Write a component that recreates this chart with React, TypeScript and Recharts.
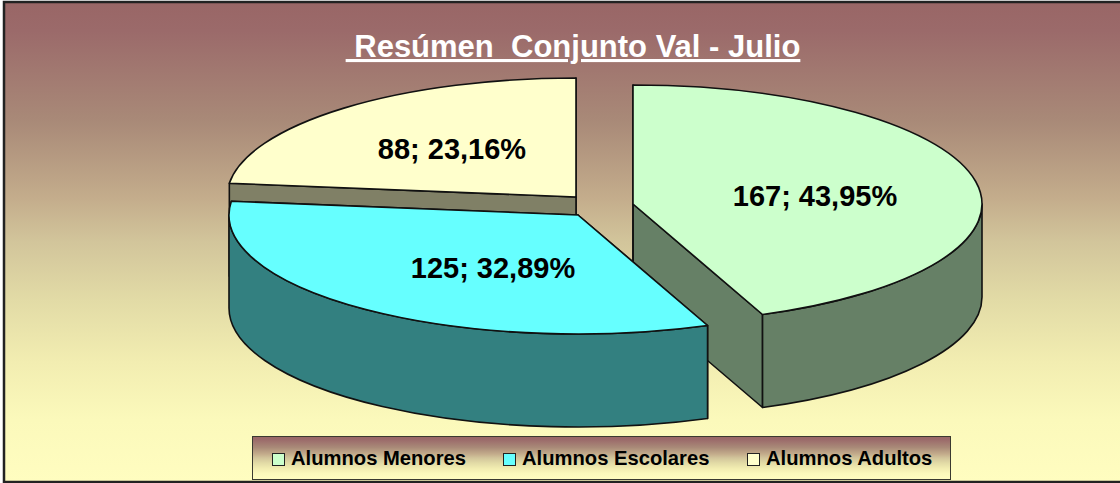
import React from 'react';
import { PieChart, Pie, Legend } from 'recharts';

const categories = ['Alumnos Menores', 'Alumnos Escolares', 'Alumnos Adultos'];
const values = [167, 125, 88];
const topColors = ['#ccffcc', '#66ffff', '#ffffcc'];
const sideColors = ['#668066', '#338080', '#808066'];
const titleText = ' Resúmen  Conjunto Val - Julio';

const W = 1120;
const H = 483;
const RX = 349;
const RY = 119;
const DEPTH = 93;
const CX = 598;
const CY = 205;
const sliceShift = [
  [35, -1],
  [-20, 10],
  [-22, -8],
];
const labelShift = [
  [182, -8],
  [-85, 53],
  [-124, -48],
];
const gradientStops: [string, string][] = [
  ['0%', '#996666'],
  ['6%', '#9b6a6a'],
  ['25%', '#a98a78'],
  ['41%', '#c4ad8c'],
  ['50%', '#d2c59b'],
  ['62%', '#e2dba6'],
  ['75%', '#f2edb1'],
  ['87%', '#fbf9bb'],
  ['100%', '#fffdc0'],
];

const total = values.reduce((a, b) => a + b, 0);
// Counter-clockwise from the end of the first slice: the first slice is drawn first,
// the far slice next and the near slice last, so each one overlaps as in a 3D pie.
const drawOrder = [0, 2, 1];
const pieData = drawOrder.map((i) => ({
  name: categories[i],
  value: values[i],
  order: i,
  fill: topColors[i],
  side: sideColors[i],
}));
const pieStart = 90 - (360 * values[0]) / total;

const Slice3D = (props: any) => {
  const { cx, cy, payload } = props;
  let { startAngle, endAngle } = props;
  while (startAngle < 0) {
    startAngle += 360;
    endAngle += 360;
  }
  while (startAngle >= 360) {
    startAngle -= 360;
    endAngle -= 360;
  }
  const [dx, dy] = sliceShift[payload.order];
  const ox = cx + dx;
  const oy = cy + dy;
  const pt = (deg: number) => {
    const a = (deg * Math.PI) / 180;
    return [ox + RX * Math.cos(a), oy - RY * Math.sin(a)];
  };
  const s = pt(startAngle);
  const e = pt(endAngle);
  const large = endAngle - startAngle > 180 ? 1 : 0;
  const top = `M${ox},${oy} L${s[0]},${s[1]} A${RX},${RY} 0 ${large} 0 ${e[0]},${e[1]} Z`;
  const wall = (p: number[]) =>
    `M${ox},${oy} L${p[0]},${p[1]} L${p[0]},${p[1] + DEPTH} L${ox},${oy + DEPTH} Z`;
  const ranges = [[Math.max(startAngle, 180), Math.min(endAngle, 360)]].filter(([a, b]) => b > a);
  const rims = ranges.map(([a, b]) => {
    const p = pt(a);
    const q = pt(b);
    return `M${p[0]},${p[1]} A${RX},${RY} 0 0 0 ${q[0]},${q[1]} L${q[0]},${q[1] + DEPTH} A${RX},${RY} 0 0 1 ${p[0]},${p[1] + DEPTH} Z`;
  });
  const line = { stroke: '#111', strokeWidth: 1.6, strokeLinejoin: 'round' as const };
  return (
    <g>
      <path d={wall(s)} fill={payload.side} {...line} />
      <path d={wall(e)} fill={payload.side} {...line} />
      {rims.map((d, i) => (
        <path key={i} d={d} fill={payload.side} {...line} />
      ))}
      <path d={top} fill={payload.fill} {...line} />
    </g>
  );
};

const sliceLabel = (props: any) => {
  const { cx, cy, percent, value, payload } = props;
  const [sx, sy] = sliceShift[payload.order];
  const [lx, ly] = labelShift[payload.order];
  const text = `${value}; ${(percent * 100).toFixed(2).replace('.', ',')}%`;
  return (
    <text
      x={cx + sx + lx}
      y={cy + sy + ly}
      textAnchor="middle"
      dominantBaseline="central"
      fontFamily="Liberation Sans"
      fontWeight="bold"
      fontSize={29}
      fill="#000"
    >
      {text}
    </text>
  );
};

const band = `linear-gradient(to bottom, ${gradientStops.map(([o, c]) => `${c} ${o}`).join(', ')})`;

const LegendBox = () => (
  <div
    style={{
      boxSizing: 'border-box',
      width: 699,
      height: 44,
      border: '1.5px solid #3a3a30',
      background: band,
      position: 'relative',
      fontFamily: 'Liberation Sans',
      fontWeight: 'bold',
      fontSize: 20.2,
      color: '#000',
    }}
  >
    {categories.map((name, i) => (
      <div key={name} style={{ position: 'absolute', left: [19, 250, 494][i], top: 9, whiteSpace: 'nowrap', lineHeight: '24px' }}>
        <span
          style={{
            display: 'inline-block',
            boxSizing: 'border-box',
            width: 13,
            height: 13,
            border: '1.5px solid #222',
            background: topColors[i],
            marginRight: 6,
            verticalAlign: '-1px',
          }}
        />
        {name}
      </div>
    ))}
  </div>
);

export default function App() {
  return (
    <div style={{ position: 'absolute', left: 0, top: 0, width: W, height: H, overflow: 'hidden', background: '#fff' }}>
      <PieChart width={W} height={H} margin={{ top: 0, right: 0, bottom: 0, left: 0 }}>
        <defs>
          <linearGradient id="bg" x1="0" y1="0" x2="0" y2="1">
            {gradientStops.map(([o, c]) => (
              <stop key={o} offset={o} stopColor={c} />
            ))}
          </linearGradient>
        </defs>
        <rect x={4} y={2} width={W + 10} height={H - 3} fill="url(#bg)" stroke="#222" strokeWidth={2.5} />
        <text
          x={573}
          y={57}
          textAnchor="middle"
          fontFamily="Liberation Sans"
          fontWeight="bold"
          fontSize={31}
          fill="#fff"
          textDecoration="underline"
          style={{ whiteSpace: 'pre' }}
        >
          {titleText}
        </text>
        <Pie
          data={pieData}
          dataKey="value"
          nameKey="name"
          cx={CX}
          cy={CY}
          innerRadius={0}
          outerRadius={RX}
          startAngle={pieStart}
          endAngle={pieStart + 360}
          paddingAngle={0}
          stroke="none"
          shape={Slice3D}
          label={sliceLabel}
          labelLine={false}
          isAnimationActive={false}
        />
        <Legend content={<LegendBox />} wrapperStyle={{ left: 252, top: 436, width: 699, bottom: 'auto' }} />
      </PieChart>
    </div>
  );
}
